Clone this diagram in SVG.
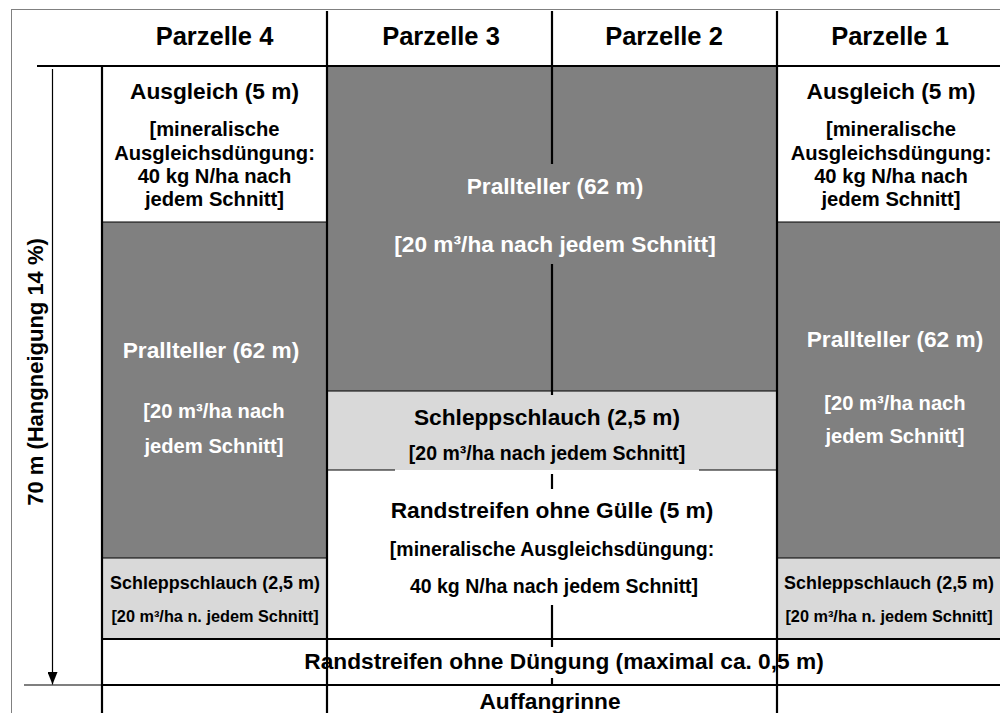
<svg xmlns="http://www.w3.org/2000/svg" width="1000" height="713" viewBox="0 0 1000 713">
<style>
text{font-family:"Liberation Sans",Arial,sans-serif;font-weight:bold;text-anchor:middle;fill:#000}
.w{fill:#fff}
.h{font-size:25.5px}
.t{font-size:22.7px}
.v{font-size:22px}
.s{font-size:20.2px}
.s2{font-size:19.5px}
.sm{font-size:17.9px}
.xs{font-size:16.3px}
.dark{fill:#808080}
.light{fill:#d9d9d9}
.white{fill:#fff}
.thick{stroke:#000;stroke-width:2.2;fill:none}
.thin{stroke:#000;stroke-width:1.2;fill:none}
.frame{stroke:#808080;stroke-width:1;fill:none}
</style>
<defs>
<marker id="ah" markerWidth="13" markerHeight="10" refX="12.5" refY="5" orient="auto" markerUnits="userSpaceOnUse">
<path d="M0,0 L12.5,5 L0,10 Z" fill="#000"/>
</marker>
</defs>
<rect x="0" y="0" width="1000" height="713" fill="#fff"/>
<rect class="frame" x="11.5" y="9.5" width="1000" height="720"/>

<g id="parzelle4">
<rect class="white" x="102" y="66" width="225" height="156"/>
<rect class="dark" x="102" y="222" width="225" height="336"/>
<rect class="light" x="102" y="558" width="225" height="81"/>
<text class="h" x="214.5" y="45">Parzelle 4</text>
<text class="t" x="214.5" y="99">Ausgleich (5 m)</text>
<text class="s" x="214.5" y="136">[mineralische</text>
<text class="s" x="214.5" y="160">Ausgleichsdüngung:</text>
<text class="s" x="214.5" y="183">40 kg N/ha nach</text>
<text class="s" x="214.5" y="206">jedem Schnitt]</text>
<text class="t w" x="211" y="358">Prallteller (62 m)</text>
<text class="s w" x="214" y="418">[20 m³/ha nach</text>
<text class="s w" x="214" y="453">jedem Schnitt]</text>
<text class="sm" x="215" y="589">Schleppschlauch (2,5 m)</text>
<text class="xs" x="215" y="622">[20 m³/ha n. jedem Schnitt]</text>
</g>

<g id="parzelle1">
<rect class="white" x="777" y="66" width="223" height="156"/>
<rect class="dark" x="777" y="222" width="223" height="336"/>
<rect class="light" x="777" y="558" width="223" height="81"/>
<text class="h" x="890" y="45">Parzelle 1</text>
<text class="t" x="891" y="99">Ausgleich (5 m)</text>
<text class="s" x="891" y="136">[mineralische</text>
<text class="s" x="891" y="160">Ausgleichsdüngung:</text>
<text class="s" x="891" y="183">40 kg N/ha nach</text>
<text class="s" x="891" y="206">jedem Schnitt]</text>
<text class="t w" x="895" y="347">Prallteller (62 m)</text>
<text class="s w" x="895" y="410">[20 m³/ha nach</text>
<text class="s w" x="895" y="443">jedem Schnitt]</text>
<text class="sm" x="889" y="589">Schleppschlauch (2,5 m)</text>
<text class="xs" x="889" y="622">[20 m³/ha n. jedem Schnitt]</text>
</g>

<g id="parzelle3-2">
<rect class="dark" x="327" y="66" width="450" height="325"/>
<rect class="light" x="327" y="391" width="450" height="79"/>
<rect class="white" x="327" y="470" width="450" height="169"/>
<text class="h" x="441" y="45">Parzelle 3</text>
<text class="h" x="664" y="45">Parzelle 2</text>
<text class="t w" x="555" y="194">Prallteller (62 m)</text>
<text class="t w" x="555" y="252">[20 m³/ha nach jedem Schnitt]</text>
<text class="t" x="547" y="425">Schleppschlauch (2,5 m)</text>
<text class="s2" x="547" y="460">[20 m³/ha nach jedem Schnitt]</text>
<text class="t" x="552" y="518">Randstreifen ohne Gülle (5 m)</text>
<text class="s2" x="552" y="556">[mineralische Ausgleichsdüngung:</text>
<text class="s2" x="554" y="593">40 kg N/ha nach jedem Schnitt]</text>
</g>

<g id="connectors">
<line class="thin" x1="102" y1="222" x2="327" y2="222"/>
<line class="thin" x1="777" y1="222" x2="1000" y2="222"/>
<line class="thin" x1="102" y1="558" x2="327" y2="558"/>
<line class="thin" x1="777" y1="558" x2="1000" y2="558"/>
<line class="thin" x1="327" y1="391" x2="777" y2="391"/>
<line class="thin" x1="327" y1="470" x2="395" y2="470"/>
<line class="thin" x1="699" y1="470" x2="777" y2="470"/>
<line class="thick" x1="37" y1="66" x2="1000" y2="66"/>
<line class="thick" x1="102" y1="639" x2="1000" y2="639"/>
<line class="thin" x1="24" y1="685" x2="102" y2="685"/>
<line class="thick" x1="102" y1="685" x2="1000" y2="685"/>
<line class="thick" x1="102" y1="66" x2="102" y2="713"/>
<line class="thick" x1="327" y1="11" x2="327" y2="713"/>
<line class="thick" x1="777" y1="11" x2="777" y2="713"/>
<line class="thick" x1="552" y1="11" x2="552" y2="164"/>
<line class="thick" x1="552" y1="264" x2="552" y2="395"/>
<line class="thick" x1="552" y1="474" x2="552" y2="489"/>
<line class="thick" x1="552" y1="605" x2="552" y2="647"/>
<line class="thick" x1="552" y1="678" x2="552" y2="686"/>
<line x1="52.5" y1="69" x2="52.5" y2="684.5" stroke="#000" stroke-width="1.2" marker-end="url(#ah)"/>
</g>

<g id="bottom-rows">
<text class="t" x="564" y="669">Randstreifen ohne Düngung (maximal ca. 0,5 m)</text>
<text class="t" x="550" y="709">Auffangrinne</text>
</g>

<g id="axis-label">
<text class="v" x="43" y="372" transform="rotate(-90 43 372)">70 m (Hangneigung 14 %)</text>
</g>
</svg>
